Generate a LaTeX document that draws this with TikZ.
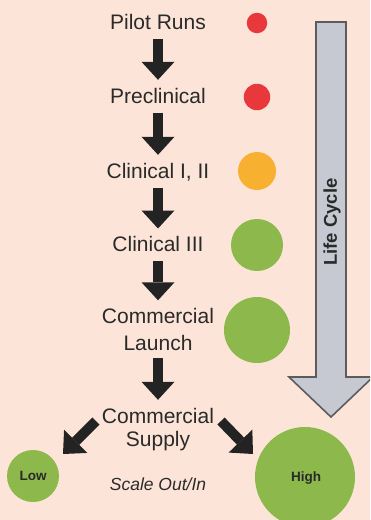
\documentclass[tikz,border=0pt]{standalone}
\usepackage{fontspec}
\setmainfont{Liberation Sans}
\usetikzlibrary{arrows.meta}
\definecolor{bg}{HTML}{FCE5D8}
\definecolor{txt}{HTML}{2A2A2A}
\definecolor{arr}{HTML}{232323}
\definecolor{redc}{HTML}{E8383B}
\definecolor{orc}{HTML}{F7B030}
\definecolor{grc}{HTML}{8CB84C}
\definecolor{grayfill}{HTML}{C6C9D1}
\definecolor{grayline}{HTML}{5C5C5C}
\tikzset{
  lbl/.style={font=\fontsize{21}{24}\selectfont, text=txt, inner sep=0pt, text height=15pt, text depth=4pt, anchor=base},
  blk/.style={line width=10pt, draw=arr, -{Triangle[width=33pt,length=18pt,line width=0pt]}},
  vblk/.style={blk, shorten <=5.5pt, shorten >=8pt},
  dot/.style={circle, inner sep=0pt, draw=none},
  small/.style={font=\bfseries\fontsize{13.5}{15}\selectfont, text=txt, inner sep=0pt, anchor=base}
}
\begin{document}
\begin{tikzpicture}[x=1pt,y=-1pt]
\fill[bg] (0,0) rectangle (370,520);
\useasboundingbox (0,0) rectangle (370,520);
\clip (0,0) rectangle (370,520);
% gray life-cycle arrow
\draw[fill=grayfill, draw=grayline, line width=1.6pt, line join=miter]
  (316,22) -- (346,22) -- (346,377) -- (373,377) -- (331,417) -- (289,377) -- (316,377) -- cycle;
\node[rotate=90, font=\bfseries\fontsize{18.5}{20}\selectfont, text=txt] (life) at (332,222) {Life Cycle};
% stage labels
\node[lbl] (pilot) at (158,29.5) {Pilot Runs};
\node[lbl] (precl) at (158,103) {Preclinical};
\node[lbl] (clin12) at (158,178) {Clinical I, II};
\node[lbl] (clin3) at (158,251.7) {Clinical III};
\node[lbl] (com1) at (158,323.5) {Commercial};
\node[lbl] (launch) at (158,350) {Launch};
\node[lbl] (sup1) at (158,423) {Commercial};
\node[lbl] (sup2) at (158,446) {Supply};
\node[font=\itshape\fontsize{17.5}{20}\selectfont, text=txt, inner sep=0pt, anchor=base] (scale) at (158,490) {Scale Out/In};
% vertical arrows
\draw[vblk] (pilot) -- (precl);
\draw[vblk] (precl) -- (clin12);
\draw[vblk] (clin12) -- (clin3);
\draw[vblk] (clin3) -- (com1);
\draw[vblk, shorten <=4pt] (launch) -- (sup1);
% diagonal arrows
\coordinate (ltail) at (96,421);
\coordinate (ltip) at (63,454);
\coordinate (rtail) at (221,421);
\coordinate (rtip) at (253,454);
\draw[blk] (ltail) -- (ltip);
\draw[blk] (rtail) -- (rtip);
% status circles
\node[dot, fill=redc, minimum size=20.5pt] (c1) at (257,23) {};
\node[dot, fill=redc, minimum size=26.5pt] (c2) at (257,97) {};
\node[dot, fill=orc, minimum size=38pt] (c3) at (257,171) {};
\node[dot, fill=grc, minimum size=52pt] (c4) at (257,245) {};
\node[dot, fill=grc, minimum size=66pt] (c5) at (257,330) {};
\node[dot, fill=grc, minimum size=52pt] (low) at (33,476) {};
\node[dot, fill=grc, minimum size=100pt] (high) at (305,477) {};
\node[small] (lowt) at (33,480) {Low};
\node[small] (hight) at (306,481) {High};
\end{tikzpicture}
\end{document}
